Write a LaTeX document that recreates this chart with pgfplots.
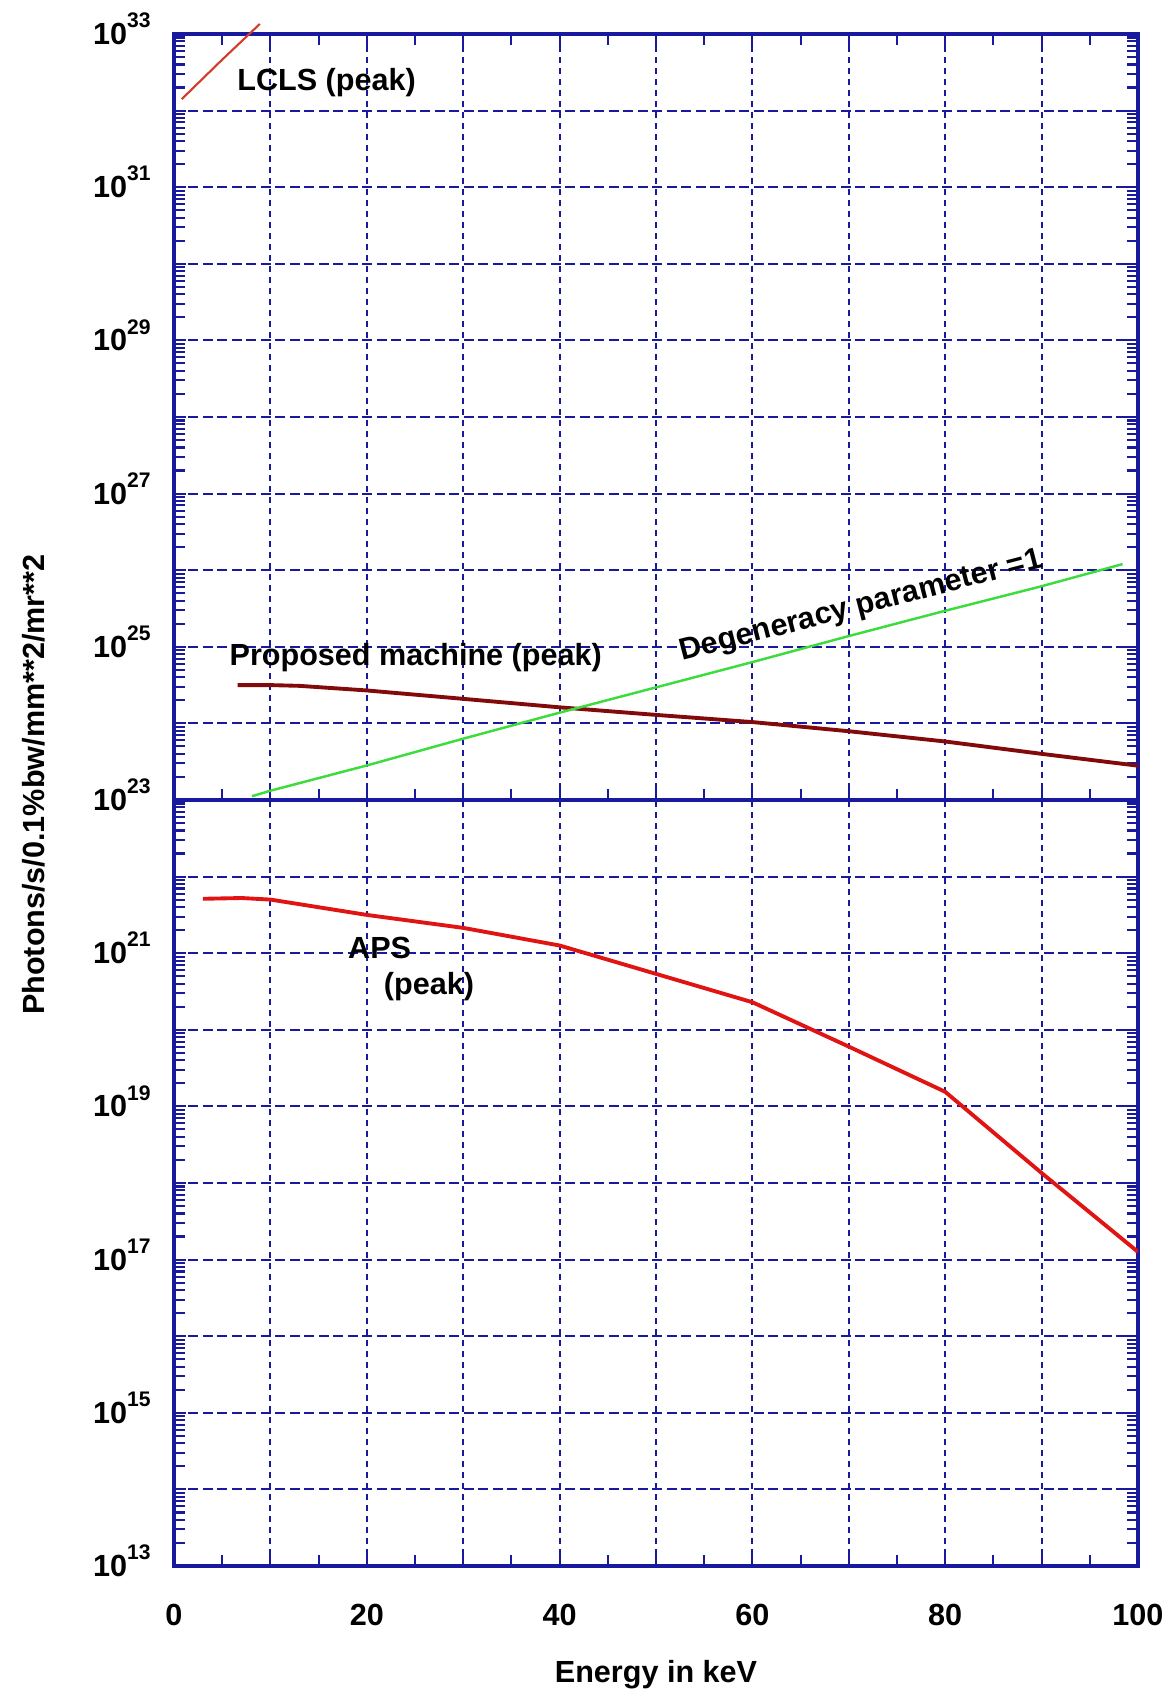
\documentclass[border=0pt]{standalone}
\usepackage{fontspec}
\setmainfont{Liberation Sans}
\usepackage{pgfplots}
\pgfplotsset{compat=1.18}

\definecolor{axblue}{RGB}{25,25,160}
\definecolor{lclsred}{RGB}{210,60,40}
\definecolor{propred}{RGB}{130,10,10}
\definecolor{apsred}{RGB}{225,20,20}
\definecolor{degreen}{RGB}{60,220,60}

% exponent label: "10" with a raised power that does not move the centre
\newcommand\tl[1]{\textbf{10}\smash{\raisebox{0.55em}{\fontsize{6}{6}\selectfont\bfseries #1}}}

\tikzset{lab/.style={font=\fontsize{8.7}{10}\selectfont\bfseries, inner sep=0pt}}

\pgfplotsset{
  panel/.style={
    scale only axis, width=96.4mm, height=76.6mm,
    xmin=0, xmax=100,
    max space between ticks=25,
    axis line style={axblue, line width=0.9pt},
    xtick={0,10,...,100}, minor xtick={5,15,...,95},
    xmajorgrids, ymajorgrids,
    x grid style={axblue, line width=0.6pt, dash pattern=on 0.6mm off 0.5mm},
    y grid style={axblue, line width=0.6pt, dash pattern=on 1mm off 0.45mm},
    tick align=inside,
    tick style={axblue, line width=0.6pt},
    major tick length=1.2mm, minor tick length=1.1mm,
    every tick label/.append style={font=\fontsize{8.7}{10}\selectfont\bfseries, text=black},
    yticklabel style={xshift=-1.1mm},
    xticklabel style={yshift=-2.6mm},
    no markers,
  },
}

\begin{document}
\begin{tikzpicture}
\path[use as bounding box] (-17.4mm,-13.1mm) rectangle (99.6mm,156.6mm);

% lower panel 1e13 .. 1e23
\begin{axis}[ymode=log, panel,
    at={(0,0)}, anchor=south west,
    ymin=1e13, ymax=1e23,
    xtick pos=bottom,
    xticklabels={0,{},20,{},40,{},60,{},80,{},100},
    yticklabels={\tl{13},{},\tl{15},{},\tl{17},{},\tl{19},{},\tl{21},{},\tl{23}},
    xlabel={Energy in keV},
    every axis x label/.style={at={(axis description cs:0.5,0)}, anchor=center,
        yshift=-10.9mm, font=\fontsize{8.7}{10}\selectfont\bfseries},
    ylabel={Photons/s/0.1\%bw/mm**2/mr**2},
    every axis y label/.style={at={(axis description cs:-0.146,1.02)}, anchor=center,
        rotate=90, font=\fontsize{8.7}{10}\selectfont\bfseries},
]
% APS (peak)
\addplot[apsred, line width=1.1pt] coordinates {
  (3,5.13e21) (7,5.25e21) (10,5.01e21) (20,3.16e21) (30,2.14e21)
  (40,1.26e21) (50,5.37e20) (60,2.29e20) (70,6.03e19) (80,1.55e19)
  (90,1.35e18) (100,1.26e17)
};
\node[lab, anchor=west] at (axis cs:18,1.17e21) {APS};
\node[lab, anchor=west] at (axis cs:21.7,3.63e20) {(peak)};
\end{axis}

% upper panel 1e23 .. 1e33
\begin{axis}[ymode=log, panel,
    at={(0,76.6mm)}, anchor=south west,
    ymin=1e23, ymax=1e33,
    xticklabels={},
    yticklabels={{},{},\tl{25},{},\tl{27},{},\tl{29},{},\tl{31},{},\tl{33}},
    clip=false,
]
% LCLS (peak)
\addplot[lclsred, line width=0.6pt] coordinates {
  (0.8,1.41e32) (4.8,4.37e32) (8.9,1.35e33)
};
% proposed machine (peak)
\addplot[propred, line width=1.1pt] coordinates {
  (6.6,3.16e24) (10,3.16e24) (13,3.09e24) (20,2.69e24) (30,2.09e24)
  (40,1.62e24) (50,1.29e24) (60,1.04e24) (70,7.9e23) (80,5.8e23)
  (90,4.0e23) (100,2.8e23)
};
% degeneracy parameter = 1
\addplot[degreen, line width=0.7pt] coordinates {
  (8.1,1.12e23) (10,1.32e23) (20,2.82e23) (30,6.31e23) (40,1.38e24)
  (50,2.95e24) (60,6.31e24) (70,1.38e25) (80,2.95e25) (90,6.17e25)
  (98.4,1.20e26)
};
\node[lab, anchor=west] at (axis cs:6.5,2.29e32) {LCLS (peak)};
\node[lab, anchor=west] at (axis cs:5.7,7.24e24) {Proposed machine (peak)};
\node[lab, rotate=14.5] at (axis cs:71.3,3.31e25) {Degeneracy parameter =1};
\end{axis}
\end{tikzpicture}
\end{document}
